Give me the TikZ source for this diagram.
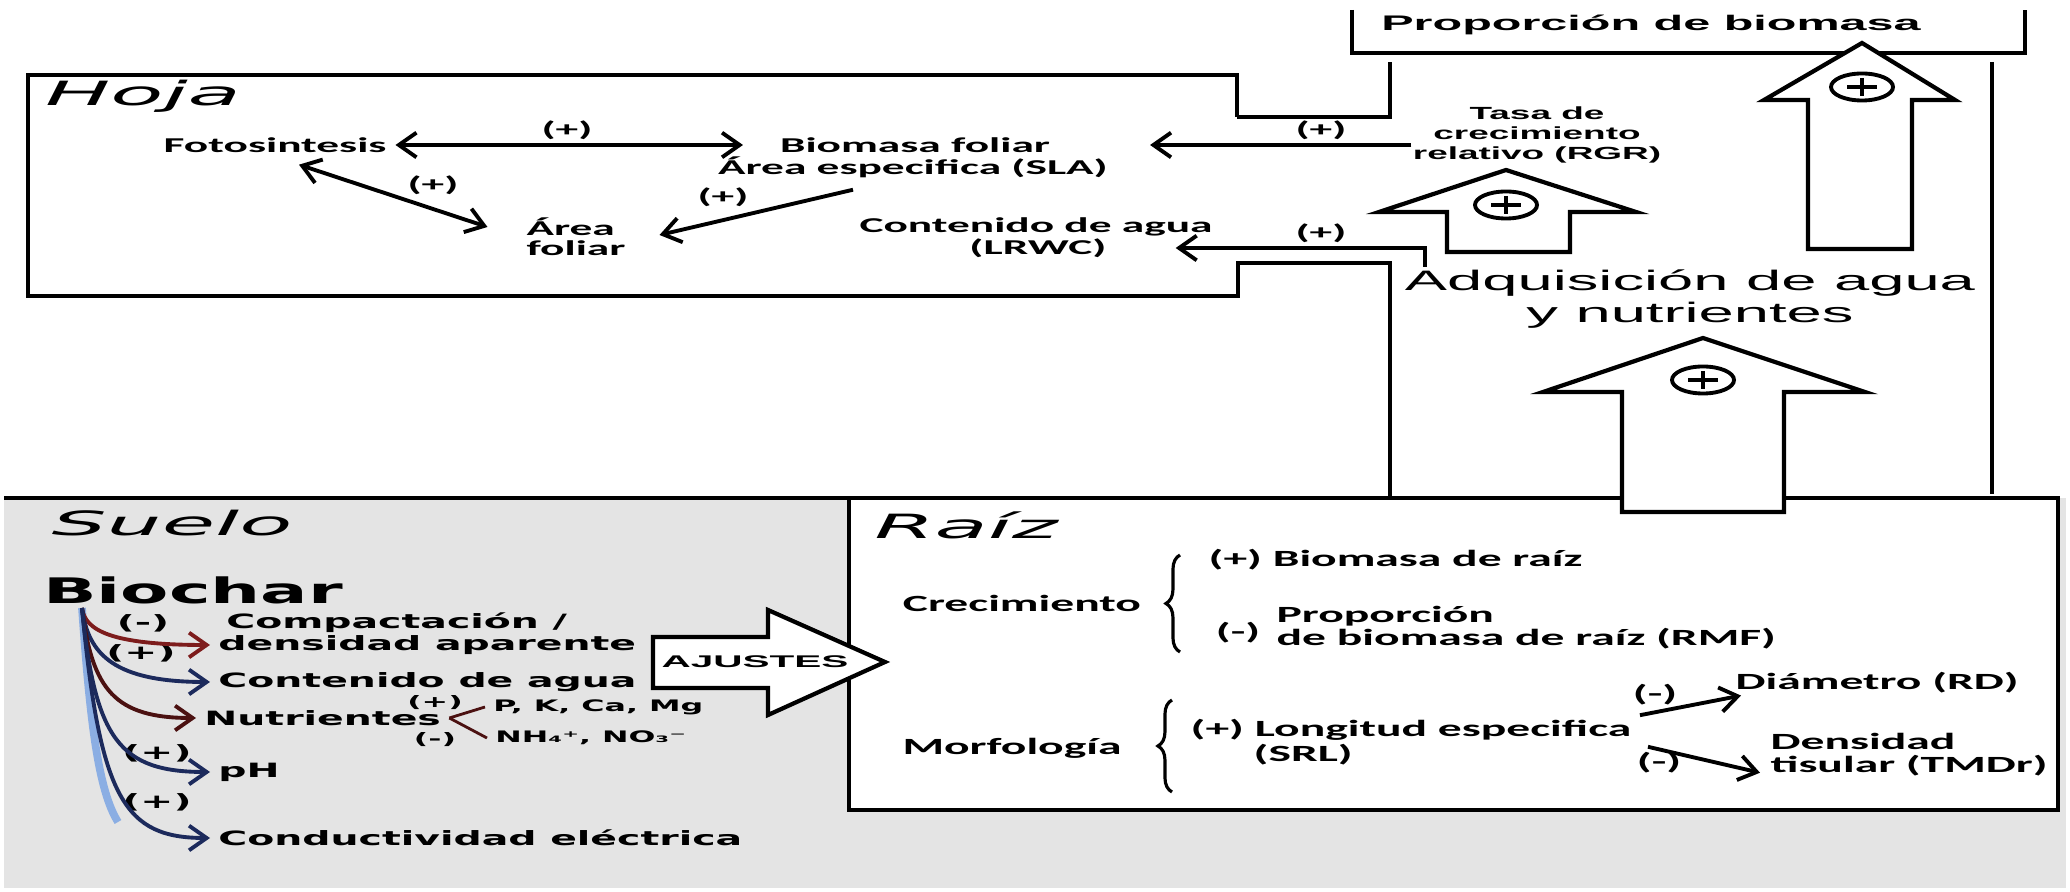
\documentclass[tikz,border=0pt]{standalone}
\usepackage{fontspec}
\setmainfont{Carlito}
\newfontfamily\verdfont{DejaVu Sans}
\newfontfamily\arialfont{Liberation Sans}
\usetikzlibrary{positioning,calc,arrows.meta,shapes.geometric,decorations.pathreplacing}

\definecolor{soilgray}{RGB}{228,228,228}
\definecolor{redarr}{RGB}{125,28,28}
\definecolor{bluearr}{RGB}{28,42,92}
\definecolor{glowblue}{RGB}{90,140,215}

\tikzset{
  >={Straight Barb[length=5pt,width=7pt]},
  boxline/.style={line width=1.3pt},
  bigarrow/.style={line width=1.2pt, fill=white, line join=miter},
  arr/.style={line width=1.1pt, ->},
  soilarr/.style={line width=1.1pt, ->},
  bracel/.style={line width=0.9pt, decorate, decoration={brace, amplitude=4pt}},
  plusmark/.style={ellipse, draw, line width=1.1pt, minimum width=0.62cm, minimum height=0.27cm, inner sep=0pt,
    path picture={\draw[line width=1.1pt] (path picture bounding box.center) +(-15,0) -- +(15,0)
      (path picture bounding box.center) +(0,-9) -- +(0,9);}},
  lbl/.style={font=\bfseries\fontsize{6}{5.8}\selectfont, xscale=2.15, inner sep=1pt},
  rlbl/.style={font=\bfseries\fontsize{6.6}{6.6}\selectfont, xscale=2.05, inner sep=1pt},
  slbl/.style={font=\verdfont\bfseries\fontsize{5.6}{6.5}\selectfont, xscale=2, inner sep=1pt},
  tinylbl/.style={font=\verdfont\bfseries\fontsize{4.5}{5}\selectfont, xscale=2, inner sep=1pt},
  areatitle/.style={font=\verdfont\itshape\fontsize{9.5}{11}\selectfont, xscale=2.6, inner sep=0pt},
  biochar/.style={font=\verdfont\bfseries\fontsize{10}{12}\selectfont, xscale=2, inner sep=0pt},
  proplbl/.style={font=\arialfont\bfseries\fontsize{6}{7}\selectfont, xscale=2.3, inner sep=0pt},
  rgr/.style={font=\arialfont\bfseries\fontsize{5}{5.7}\selectfont, xscale=2.1, inner sep=0pt, align=center},
  adq/.style={font=\arialfont\fontsize{8}{9.1}\selectfont, xscale=2.25, inner sep=0pt, align=center},
  ajus/.style={font=\arialfont\bfseries\fontsize{4.8}{6}\selectfont, xscale=2.4, inner sep=0pt},
}

\begin{document}
\begin{tikzpicture}[x=0.01cm, y=-0.01cm]
\useasboundingbox (0,0) rectangle (2070,892);
% suelo
\fill[soilgray] (4,498) rectangle (2066,888);
% raiz box
\draw[boxline, fill=white] (849,498) rectangle (2058,810);
\draw[boxline] (4,498) -- (849,498);
% hoja box and the joining lines
\draw[boxline] (1237,117) -- (1237,75) -- (28,75) -- (28,296) -- (1238,296) -- (1238,263) -- (1390,263) -- (1390,498);
\draw[boxline] (1237,117) -- (1390,117) -- (1390,62);
\draw[boxline] (1352,10) -- (1352,53) -- (2025,53) -- (2025,10);
\draw[boxline] (1992,62) -- (1992,494);

% big arrows
\draw[bigarrow] (1447,252) -- (1447,212) -- (1379,212) -- (1506,170) -- (1636,212) -- (1570,212) -- (1570,252) -- cycle;
\draw[bigarrow] (1808,249) -- (1808,100) -- (1764,100) -- (1862,43) -- (1955,100) -- (1912,100) -- (1912,249) -- cycle;
\draw[bigarrow] (1622,512) -- (1622,392) -- (1543,392) -- (1703,338) -- (1865,392) -- (1784,392) -- (1784,512) -- cycle;
\draw[bigarrow] (653,637) -- (768,637) -- (768,610) -- (885,662) -- (768,715) -- (768,688) -- (653,688) -- cycle;
\node[plusmark] (plusrgr) at (1506,205) {};
\node[plusmark] (plusprop) at (1862,87) {};
\node[plusmark] (plusadq) at (1703,380) {};
\node[ajus] (ajustes) at (755,662) {AJUSTES};

% hoja
\node[areatitle] (hoja) at (143,96) {Hoja};
\node[lbl] (foto) at (275,145) {Fotosintesis};
\node[lbl] (biom) at (915,145) {Biomasa foliar};
\node[lbl] (sla) at (913,167) {Área especifica (SLA)};
\node[lbl, align=left] (areaf) at (576,237) {Área\\foliar};
\node[lbl] (agua) at (1036,227) {Contenido de agua};
\node[lbl] (lrwc) at (1038,248) {(LRWC)};
\node[lbl] (sgn1) at (567,130) {(+)};
\node[lbl] (sgn2) at (433,185) {(+)};
\node[lbl] (sgn3) at (723,197) {(+)};
\node[lbl] (sgn4) at (1321,130) {(+)};
\node[lbl] (sgn5) at (1321,233) {(+)};
\node[proplbl] (prop) at (1651,25) {Proporción de biomasa};
\node[rgr] (tasa) at (1537,135) {Tasa de\\crecimiento\\relativo (RGR)};
\node[adq] (adq) at (1690,299) {Adquisición de agua\\y nutrientes};
\coordinate (adqtick) at (1425,267);

\draw[arr, <->, shorten >=0.28cm] (foto) -- (biom);
\draw[arr, <->] ($(foto.south)+(24,8)$) -- ($(areaf.west)+(-30,-10)$);
\draw[arr] ($(sla.south)+(-60,8)$) -- ($(areaf.east)+(25,-2)$);
\draw[arr, shorten >=0.91cm] (tasa.west |- biom.east) -- (biom.east);
\draw[arr, shorten >=0.6cm] (adqtick) |- (lrwc.east);

% raiz
\node[areatitle] (raiz) at (966,525) {Raíz};
\node[rlbl] (crec) at (1022,603) {Crecimiento};
\draw[bracel] (1180,652) -- (1180,555);
\node[rlbl, anchor=west] (bior) at (1200,560) {(+) Biomasa de raíz};
\node[rlbl] (sgn6) at (1238,633) {(-)};
\node[rlbl, anchor=west, align=left] (rmf) at (1268,628) {Proporción\\de biomasa de raíz (RMF)};
\node[rlbl] (morf) at (1012,748) {Morfología};
\draw[bracel] (1172,792) -- (1172,700);
\node[rlbl, anchor=west] (srl) at (1182,730) {(+) Longitud especifica};
\node[rlbl, anchor=west] (srlb) at (1245,755) {(SRL)};
\node[rlbl, anchor=west] (diam) at (1727,683) {Diámetro (RD)};
\node[rlbl, anchor=west, align=left] (dens) at (1762,755) {Densidad\\tisular (TMDr)};
\node[rlbl] (sgn7) at (1655,695) {(-)};
\node[rlbl] (sgn8) at (1659,763) {(-)};
\draw[arr] (srl.north east) -- ($(diam.south west)+(14,-2)$);
\draw[arr] ($(srl.south east)+(8,2)$) -- ($(dens.south west)+(-2,-8)$);

% suelo
\node[areatitle] (suelo) at (172,523) {Suelo};
\node[biochar] (bioch) at (193,590) {Biochar};
\node[slbl, anchor=west] (compac) at (218,623) {Compactación /};
\node[slbl, anchor=west] (densap) at (210,645) {densidad aparente};
\node[slbl, anchor=west] (contag) at (210,682) {Contenido de agua};
\node[slbl, anchor=west] (nutr) at (196,718) {Nutrientes};
\node[tinylbl, anchor=west] (pk) at (485,707) {P, K, Ca, Mg};
\node[tinylbl, anchor=west] (nh) at (487,738) {NH₄⁺, NO₃⁻};
\node[slbl, anchor=west] (ph) at (210,772) {pH};
\node[slbl, anchor=west] (cond) at (210,838) {Conductividad eléctrica};
\node[slbl] (sgn9) at (143,623) {(-)};
\node[slbl] (sgn10) at (141,653) {(+)};
\node[tinylbl] (sgn11) at (435,703) {(+)};
\node[tinylbl] (sgn12) at (435,740) {(-)};
\node[slbl] (sgn13) at (157,753) {(+)};
\node[slbl] (sgn14) at (157,802) {(+)};
\coordinate (stem) at (82,608);

\draw[line width=2.2pt, glowblue!70] (stem) .. controls (90,720) and (98,790) .. (118,822);
\draw[soilarr, redarr] (stem) .. controls (85,630) and (110,645) .. (densap.west);
\draw[soilarr, bluearr] (stem) .. controls (88,655) and (115,682) .. (contag.west);
\draw[soilarr, redarr!60!black] (stem) .. controls (92,690) and (115,718) .. (nutr.west);
\draw[soilarr, bluearr] (stem) .. controls (95,740) and (120,772) .. (ph.west);
\draw[soilarr, bluearr] (stem) .. controls (100,800) and (125,838) .. (cond.west);
\draw[line width=0.8pt, redarr!60!black] (nutr.east) -- (pk.west);
\draw[line width=0.8pt, redarr!60!black] (nutr.east) -- (nh.west);
\end{tikzpicture}
\end{document}
